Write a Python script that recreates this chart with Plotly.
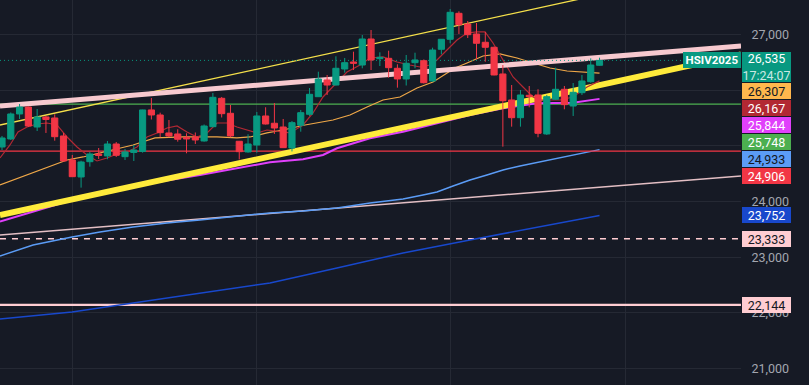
import plotly.graph_objects as go

# ---------------- data ----------------
idx = list(range(69))
opens = [24980, 25124, 25573, 25698, 25339, 25519, 25501, 25178, 24747, 24442,
         24716, 24855, 24819, 25034, 24806, 24882, 24900, 25645, 25555, 25232,
         25214, 25155, 25160, 25088, 25345, 25854, 25585, 25083, 24891, 25016,
         25537, 25406, 25339, 24962, 25370, 25567, 25883, 26183, 26093, 26380,
         26506, 26452, 26919, 26565, 26572, 26393, 26201, 26494, 26529, 26165,
         26734, 26914, 27380, 27188, 27009, 26860, 26770, 26291, 25824, 25506,
         25908, 25914, 25214, 25837, 26016, 25716, 25955, 26152, 26447]
highs = [25178, 25600, 25752, 25707, 25662, 25537, 25567, 25232, 24837, 24734,
         24891, 24962, 25088, 25070, 24944, 25016, 25650, 25860, 25596, 25465,
         25298, 25226, 25241, 25384, 25950, 25878, 25734, 25088, 25208, 25609,
         25693, 25770, 25483, 25447, 25645, 26039, 26332, 26273, 26608, 26578,
         26691, 26991, 27080, 26680, 26709, 26465, 26632, 26673, 26551, 26763,
         26919, 27457, 27416, 27242, 27206, 27045, 26781, 26452, 26093, 26003,
         26075, 26016, 25914, 26404, 26075, 26129, 26273, 26572, 26583]
lows = [24926, 25106, 25483, 25339, 25267, 25232, 25093, 24720, 24442, 24250,
        24627, 24765, 24760, 24801, 24747, 24729, 24878, 25474, 25155, 25155,
        25076, 24867, 25034, 25076, 25334, 25510, 25155, 24756, 24878, 24878,
        25384, 25214, 24962, 24900, 25255, 25537, 25878, 25914, 26084, 26314,
        26362, 26393, 26362, 26434, 26224, 26045, 26084, 26393, 26120, 26147,
        26644, 26842, 27009, 26937, 26555, 26511, 26267, 24986, 25345, 25345,
        25693, 25155, 25196, 25824, 25657, 25537, 25914, 26134, 26440]
closes = [25142, 25573, 25698, 25357, 25519, 25474, 25165, 24729, 24447, 24711,
          24855, 24828, 25034, 24831, 24891, 24926, 25645, 25555, 25237, 25178,
          25119, 25124, 25106, 25357, 25872, 25578, 25178, 24896, 25034, 25537,
          25393, 25321, 24968, 25417, 25596, 25926, 26201, 26093, 26393, 26494,
          26483, 26919, 26542, 26590, 26404, 26201, 26483, 26542, 26134, 26721,
          26914, 27398, 27176, 26996, 26842, 26770, 26273, 25811, 25506, 25914,
          25883, 25226, 25883, 26016, 25740, 25962, 26165, 26452, 26535]

# moving averages (x = bar index)
ma5_x = [-0.23, 0.91, 1.82, 2.85, 3.98, 5.12, 6.26, 7.40, 8.54, 9.67, 10.81, 11.95,
         13.09, 14.23, 15.36, 16.50, 17.64, 18.78, 19.92, 21.05, 22.19, 23.33, 24.47,
         25.61, 26.74, 27.88, 29.02, 30.16, 32.78, 34.26, 35.39, 36.53, 38.12, 39.26,
         40.74, 41.88, 43.36, 44.95, 46.43, 47.57, 48.71, 49.50, 50.64, 51.78, 52.92,
         54.06, 54.97, 55.88, 57.02, 58.16, 59.29, 60.43, 61.23, 63.50, 64.98, 66.58, 68]
ma5_v = [24783, 25016, 25250, 25339, 25393, 25411, 25375, 25160, 24980, 24837, 24729, 24783,
         24855, 24891, 24980, 25160, 25232, 25321, 25357, 25250, 25160, 25232, 25411,
         25411, 25339, 25285, 25232, 25285, 25232, 25375, 25591, 25878, 26129, 26327,
         26452, 26578, 26596, 26506, 26452, 26416, 26452, 26542, 26722, 26901, 27027,
         27045, 27045, 26847, 26542, 26237, 26057, 25878, 25824, 25824, 25878, 26057, 26167]

ma20_x = [-0.23, 3.53, 5.46, 7.40, 9.22, 11.15, 13.09, 14.91, 17.41, 20.60, 24.47, 26.74,
          28.22, 30.16, 31.98, 34.48, 37.67, 39.60, 41.54, 43.36, 45.29, 47.23, 49.05,
          50.64, 51.55, 52.92, 54.74, 56.67, 58.61, 60.43, 62.37, 64.30, 66.12, 68]
ma20_v = [24298, 24514, 24639, 24747, 24801, 24873, 24944, 25016, 25142, 25160, 25160, 25142,
          25160, 25232, 25285, 25375, 25465, 25555, 25698, 25824, 25878, 26039, 26147,
          26309, 26398, 26488, 26614, 26650, 26578, 26488, 26398, 26344, 26327, 26307]

ma_mag_x = [-0.23, 3.53, 7.97, 14.91, 22.53, 30.50, 34.26, 36.53, 38.12, 41.88, 45.64,
            49.50, 53.26, 57.02, 60.88, 64.98, 68]
ma_mag_v = [23640, 23819, 24029, 24280, 24478, 24706, 24760, 24837, 24957, 25137, 25255,
            25406, 25555, 25675, 25765, 25776, 25844]

ma_lb_x = [-0.23, 3.53, 7.97, 11.15, 14.91, 18.78, 22.53, 26.29, 30.50, 34.26, 38.12, 41.88,
           45.64, 47.91, 49.50, 51.33, 53.26, 55.19, 57.02, 58.95, 61.23, 63.50, 65.78, 68]
ma_lb_v = [23024, 23221, 23365, 23455, 23544, 23616, 23670, 23724, 23796, 23832, 23885, 23975,
           24047, 24119, 24173, 24280, 24388, 24478, 24568, 24639, 24711, 24783, 24855, 24933]

ma_db_x = [-0.23, 7.97, 14.91, 22.53, 30.50, 38.12, 45.64, 53.26, 61.23, 68]
ma_db_v = [21893, 22019, 22180, 22360, 22539, 22808, 23078, 23311, 23544, 23752]

# drawn trend lines (two anchor points each)
tl_x = [-0.23, 84.1]
tl_upper_thin = [25375, 28265]      # thin yellow channel
tl_pink_thick = [25716, 26793]      # thick pink resistance
tl_yellow_thick = [23760, 26640]    # thick yellow support
tl_pink_thin = [23401, 24460]       # thin pink

# horizontal levels
h_green = 25748
h_red = 24906
h_pink_dash = 23333
h_pink = 22144

last_price = 26535
countdown = "17:24:07"
symbol = "HSIV2025"

ytick_vals = [21000, 22000, 23000, 24000, 25000, 26000, 27000]
ytick_text = ["21,000", "22,000", "23,000", "24,000", "", "", "27,000"]  # 25k/26k hidden behind labels
grid_x = [8, 29, 51, 71]

# ---------------- styling ----------------
BG = "#161a25"
GRID = "#252934"
UP = "#089981"
DOWN = "#f23645"
C_MA5 = "#b22833"
C_MA20 = "#ffb74d"
C_MAG = "#e040fb"
C_LB = "#5b9cf6"
C_DB = "#1848cc"
C_GREEN = "#4caf50"
C_PINK = "#ffcdd2"
C_YEL = "#ffeb3b"
FONT = "Roboto"
FS = 12.5

XR = [-0.2276, 84.10]
YR = [20707, 27619]
W, H = 809, 385
PLOT_W = 741

fig = go.Figure()

def line(x, y, color, width, dash=None):
    fig.add_trace(go.Scatter(x=x, y=y, mode="lines", hoverinfo="skip",
                             line=dict(color=color, width=width, dash=dash),
                             showlegend=False, xaxis="x", yaxis="y"))

line(tl_x, [h_pink, h_pink], C_PINK, 2.2)
line(tl_x, [h_pink_dash, h_pink_dash], C_PINK, 1.3, "6px,6px")
line(ma_db_x, ma_db_v, C_DB, 1.5)
line(tl_x, tl_pink_thin, "#e3bfc4", 1.5)
line(ma_lb_x, ma_lb_v, C_LB, 1.5)
line(tl_x, [h_red, h_red], DOWN, 1.2)
line(tl_x, [h_green, h_green], C_GREEN, 1.2)
line(ma_mag_x, ma_mag_v, C_MAG, 2)
line(tl_x, tl_yellow_thick, C_YEL, 6)
line(ma20_x, ma20_v, "#f0a848", 1.2)
line(ma5_x, ma5_v, C_MA5, 1.2)
line(tl_x, tl_upper_thin, "#f5e04a", 1.3)
line(tl_x, tl_pink_thick, "#f7c9cf", 5)
line(tl_x, [last_price, last_price], UP, 1, "1px,3px")

fig.add_trace(go.Candlestick(
    x=idx, open=opens, high=highs, low=lows, close=closes,
    increasing=dict(line=dict(color=UP, width=1), fillcolor=UP),
    decreasing=dict(line=dict(color=DOWN, width=1), fillcolor=DOWN),
    whiskerwidth=0, hoverinfo="skip", showlegend=False,
    xaxis="x2", yaxis="y2"))

# ---------------- price labels on the scale ----------------
def to_px(v):
    return H * (YR[1] - v) / (YR[1] - YR[0])

labels = [
    (26307, C_MA20, "#131722"),
    (26167, C_MA5, "#ffffff"),
    (25844, C_MAG, "#ffffff"),
    (25748, C_GREEN, "#ffffff"),
    (24933, C_LB, "#131722"),
    (24906, DOWN, "#ffffff"),
    (23752, C_DB, "#ffffff"),
    (23333, C_PINK, "#131722"),
    (22144, C_PINK, "#131722"),
]

annotations = []
lp = to_px(last_price)
top = lp - 8
annotations.append(dict(
    xref="x domain", x=1, xanchor="left", xshift=1,
    yref="y", y=last_price, yanchor="middle", yshift=lp - (top + 15),
    text=f"{last_price:,}<br><span style='color:rgba(255,255,255,0.8)'>{countdown}</span>",
    showarrow=False, bgcolor=UP, borderwidth=0, borderpad=1, width=47, height=28,
    font=dict(family=FONT, size=FS, color="#ffffff"), align="center", valign="middle"))
annotations.append(dict(
    xref="x domain", x=1, xanchor="right", xshift=0,
    yref="y", y=last_price, yanchor="middle",
    text=f"<b>{symbol}</b>", showarrow=False, bgcolor=UP, borderwidth=0, borderpad=1,
    width=56, height=14, font=dict(family=FONT, size=11.5, color="#ffffff"), align="center"))
prev_bottom = top + 30
for v, bg, fg in labels:
    p = to_px(v)
    t = max(p - 8, prev_bottom + 1)
    c = t + 8
    prev_bottom = t + 16
    annotations.append(dict(
        xref="x domain", x=1, xanchor="left", xshift=1,
        yref="y", y=v, yanchor="middle", yshift=p - c,
        text=f"{v:,}", showarrow=False, bgcolor=bg, borderwidth=0, borderpad=1,
        width=47, height=14, font=dict(family=FONT, size=FS, color=fg),
        align="center", valign="middle"))

fig.update_layout(
    width=W, height=H, margin=dict(l=0, r=0, t=0, b=0),
    paper_bgcolor=BG, plot_bgcolor=BG, showlegend=False,
    boxgap=0.3, boxgroupgap=0.0,
    font=dict(family=FONT, size=FS, color="#a3a6af"),
    xaxis=dict(domain=[0, PLOT_W / W], range=XR, tickvals=grid_x, showticklabels=False,
               showgrid=True, gridcolor=GRID, gridwidth=1, zeroline=False,
               showline=False, ticks="", rangeslider=dict(visible=False)),
    yaxis=dict(range=YR, side="right", tickvals=ytick_vals, ticktext=ytick_text,
               showgrid=True, gridcolor=GRID, gridwidth=1, zeroline=False,
               ticks="outside", ticklen=7, tickcolor="rgba(0,0,0,0)",
               tickfont=dict(family=FONT, size=FS, color="#a3a6af"), showline=False),
    xaxis2=dict(overlaying="x", range=XR, visible=False, anchor="y2",
                rangeslider=dict(visible=False)),
    yaxis2=dict(overlaying="y", range=YR, visible=False, anchor="x2", side="right"),
    annotations=annotations,
)

fig.write_html("out.html", config={"displayModeBar": False, "staticPlot": True},
               post_script="document.body.style.margin='0';document.body.style.background='#161a25';")
